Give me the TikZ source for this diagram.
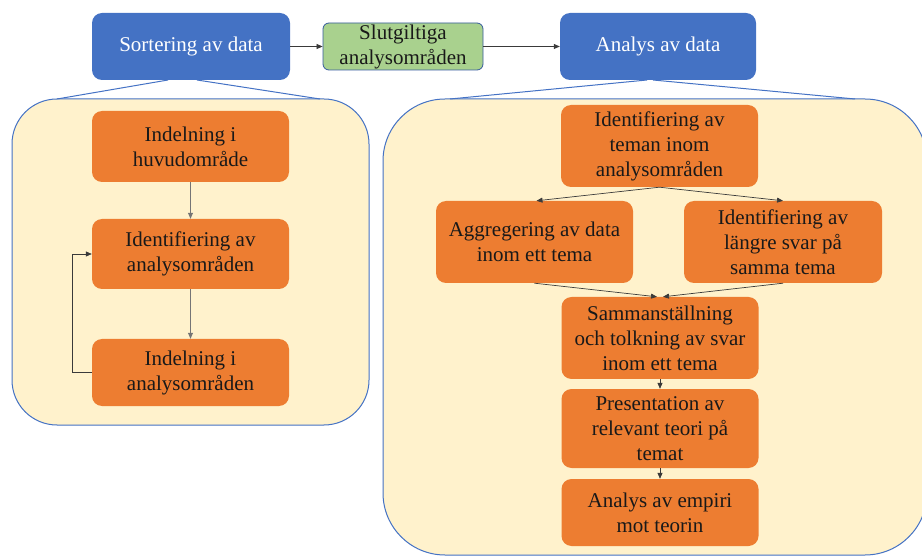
\documentclass[tikz,border=0pt]{standalone}
\usepackage{fontspec}
\setmainfont{Liberation Serif}
\usetikzlibrary{arrows.meta,calc}
\definecolor{hdrblue}{HTML}{4472C4}
\definecolor{steporange}{HTML}{ED7D31}
\definecolor{finalgreen}{HTML}{A9D18E}
\definecolor{panelfill}{HTML}{FFF2CC}
\definecolor{linkgray}{HTML}{3A3A3A}
\tikzset{
  txt/.style={font=\fontsize{21}{25}\selectfont, align=center, inner sep=0pt},
  hdrbox/.style={txt, fill=hdrblue, text=white, rounded corners=10pt},
  stepbox/.style={txt, fill=steporange, text=black!90, rounded corners=10pt},
  finalbox/.style={txt, fill=finalgreen, draw=hdrblue!80!black, line width=0.8pt,
    text=black!90, rounded corners=6pt},
  panel/.style={fill=panelfill, draw=hdrblue, line width=1pt, inner sep=0pt},
  fan/.style={draw=hdrblue, line width=1pt},
  arr/.style={draw=linkgray, line width=0.7pt, -{Triangle[length=6pt,width=5pt]}},
}
\begin{document}
\begin{tikzpicture}[x=1pt, y=-1pt]
\useasboundingbox (0,0) rectangle (922,556);

% group panels
\node[panel, rounded corners=45pt, minimum width=357pt, minimum height=326pt]
  (pl) at (190.5,262) {};
\node[panel, rounded corners=62pt, minimum width=544pt, minimum height=456pt]
  (pr) at (655,327) {};

% header row
\node[hdrbox, minimum width=198pt, minimum height=67pt] (s1) at (191,46.5) {Sortering av data};
\node[finalbox, minimum width=160pt, minimum height=47pt] (s2) at (403,46.5) {Slutgiltiga\\analysområden};
\node[hdrbox, minimum width=196pt, minimum height=67pt] (s3) at (658,46.5) {Analys av data};

\draw[arr] (s1.east) -- (s2.west);
\draw[arr] (s2.east) -- (s3.west);

% fan lines from headers to their panels
\coordinate (fa1) at (168,80);
\coordinate (fa2) at (197,80);
\coordinate (fb1) at (57,99);
\coordinate (fb2) at (320,99);
\coordinate (ga1) at (647,80);
\coordinate (ga2) at (653,80);
\coordinate (gb1) at (450,99);
\coordinate (gb2) at (855,99);
\draw[fan] (fa1) -- (fb1);
\draw[fan] (fa2) -- (fb2);
\draw[fan] (ga1) -- (gb1);
\draw[fan] (ga2) -- (gb2);

% sorting steps
\node[stepbox, minimum width=197pt, minimum height=71pt] (l1) at (190.5,146.5) {Indelning i\\huvudområde};
\node[stepbox, minimum width=197pt, minimum height=70pt] (l2) at (190.5,254) {Identifiering av\\analysområden};
\node[stepbox, minimum width=197pt, minimum height=67pt] (l3) at (190.5,372.5) {Indelning i\\analysområden};

\draw[arr, draw=linkgray!70] (l1.south) -- (l2.north);
\draw[arr, draw=linkgray!70] (l2.south) -- (l3.north);
\draw[arr] (l3.west) -- ++(-19,0) |- (l2.west);

% analysis steps
\node[stepbox, minimum width=197pt, minimum height=82pt] (r1) at (659.5,146) {Identifiering av\\teman inom\\analysområden};
\node[stepbox, minimum width=197pt, minimum height=82pt] (r2) at (534.5,242) {Aggregering av data\\inom ett tema};
\node[stepbox, minimum width=198pt, minimum height=82pt] (r3) at (783,242) {Identifiering av\\längre svar på\\samma tema};
\node[stepbox, minimum width=197pt, minimum height=82pt] (r4) at (660,338) {Sammanställning\\och tolkning av svar\\inom ett tema};
\node[stepbox, minimum width=197pt, minimum height=79pt] (r5) at (660,428.5) {Presentation av\\relevant teori på\\temat};
\node[stepbox, minimum width=197pt, minimum height=67pt] (r6) at (660,512.5) {Analys av empiri\\mot teorin};

\draw[arr] (r1.south) -- ($(r2.north)+(2,0)$);
\draw[arr] (r1.south) -- (r3.north);
\draw[arr] (r2.south) -- ($(r4.north)+(-3,0)$);
\draw[arr] (r3.south) -- ($(r4.north)+(3,0)$);
\draw[arr] (r4.south) -- (r5.north);
\draw[arr] (r5.south) -- (r6.north);
\end{tikzpicture}
\end{document}
